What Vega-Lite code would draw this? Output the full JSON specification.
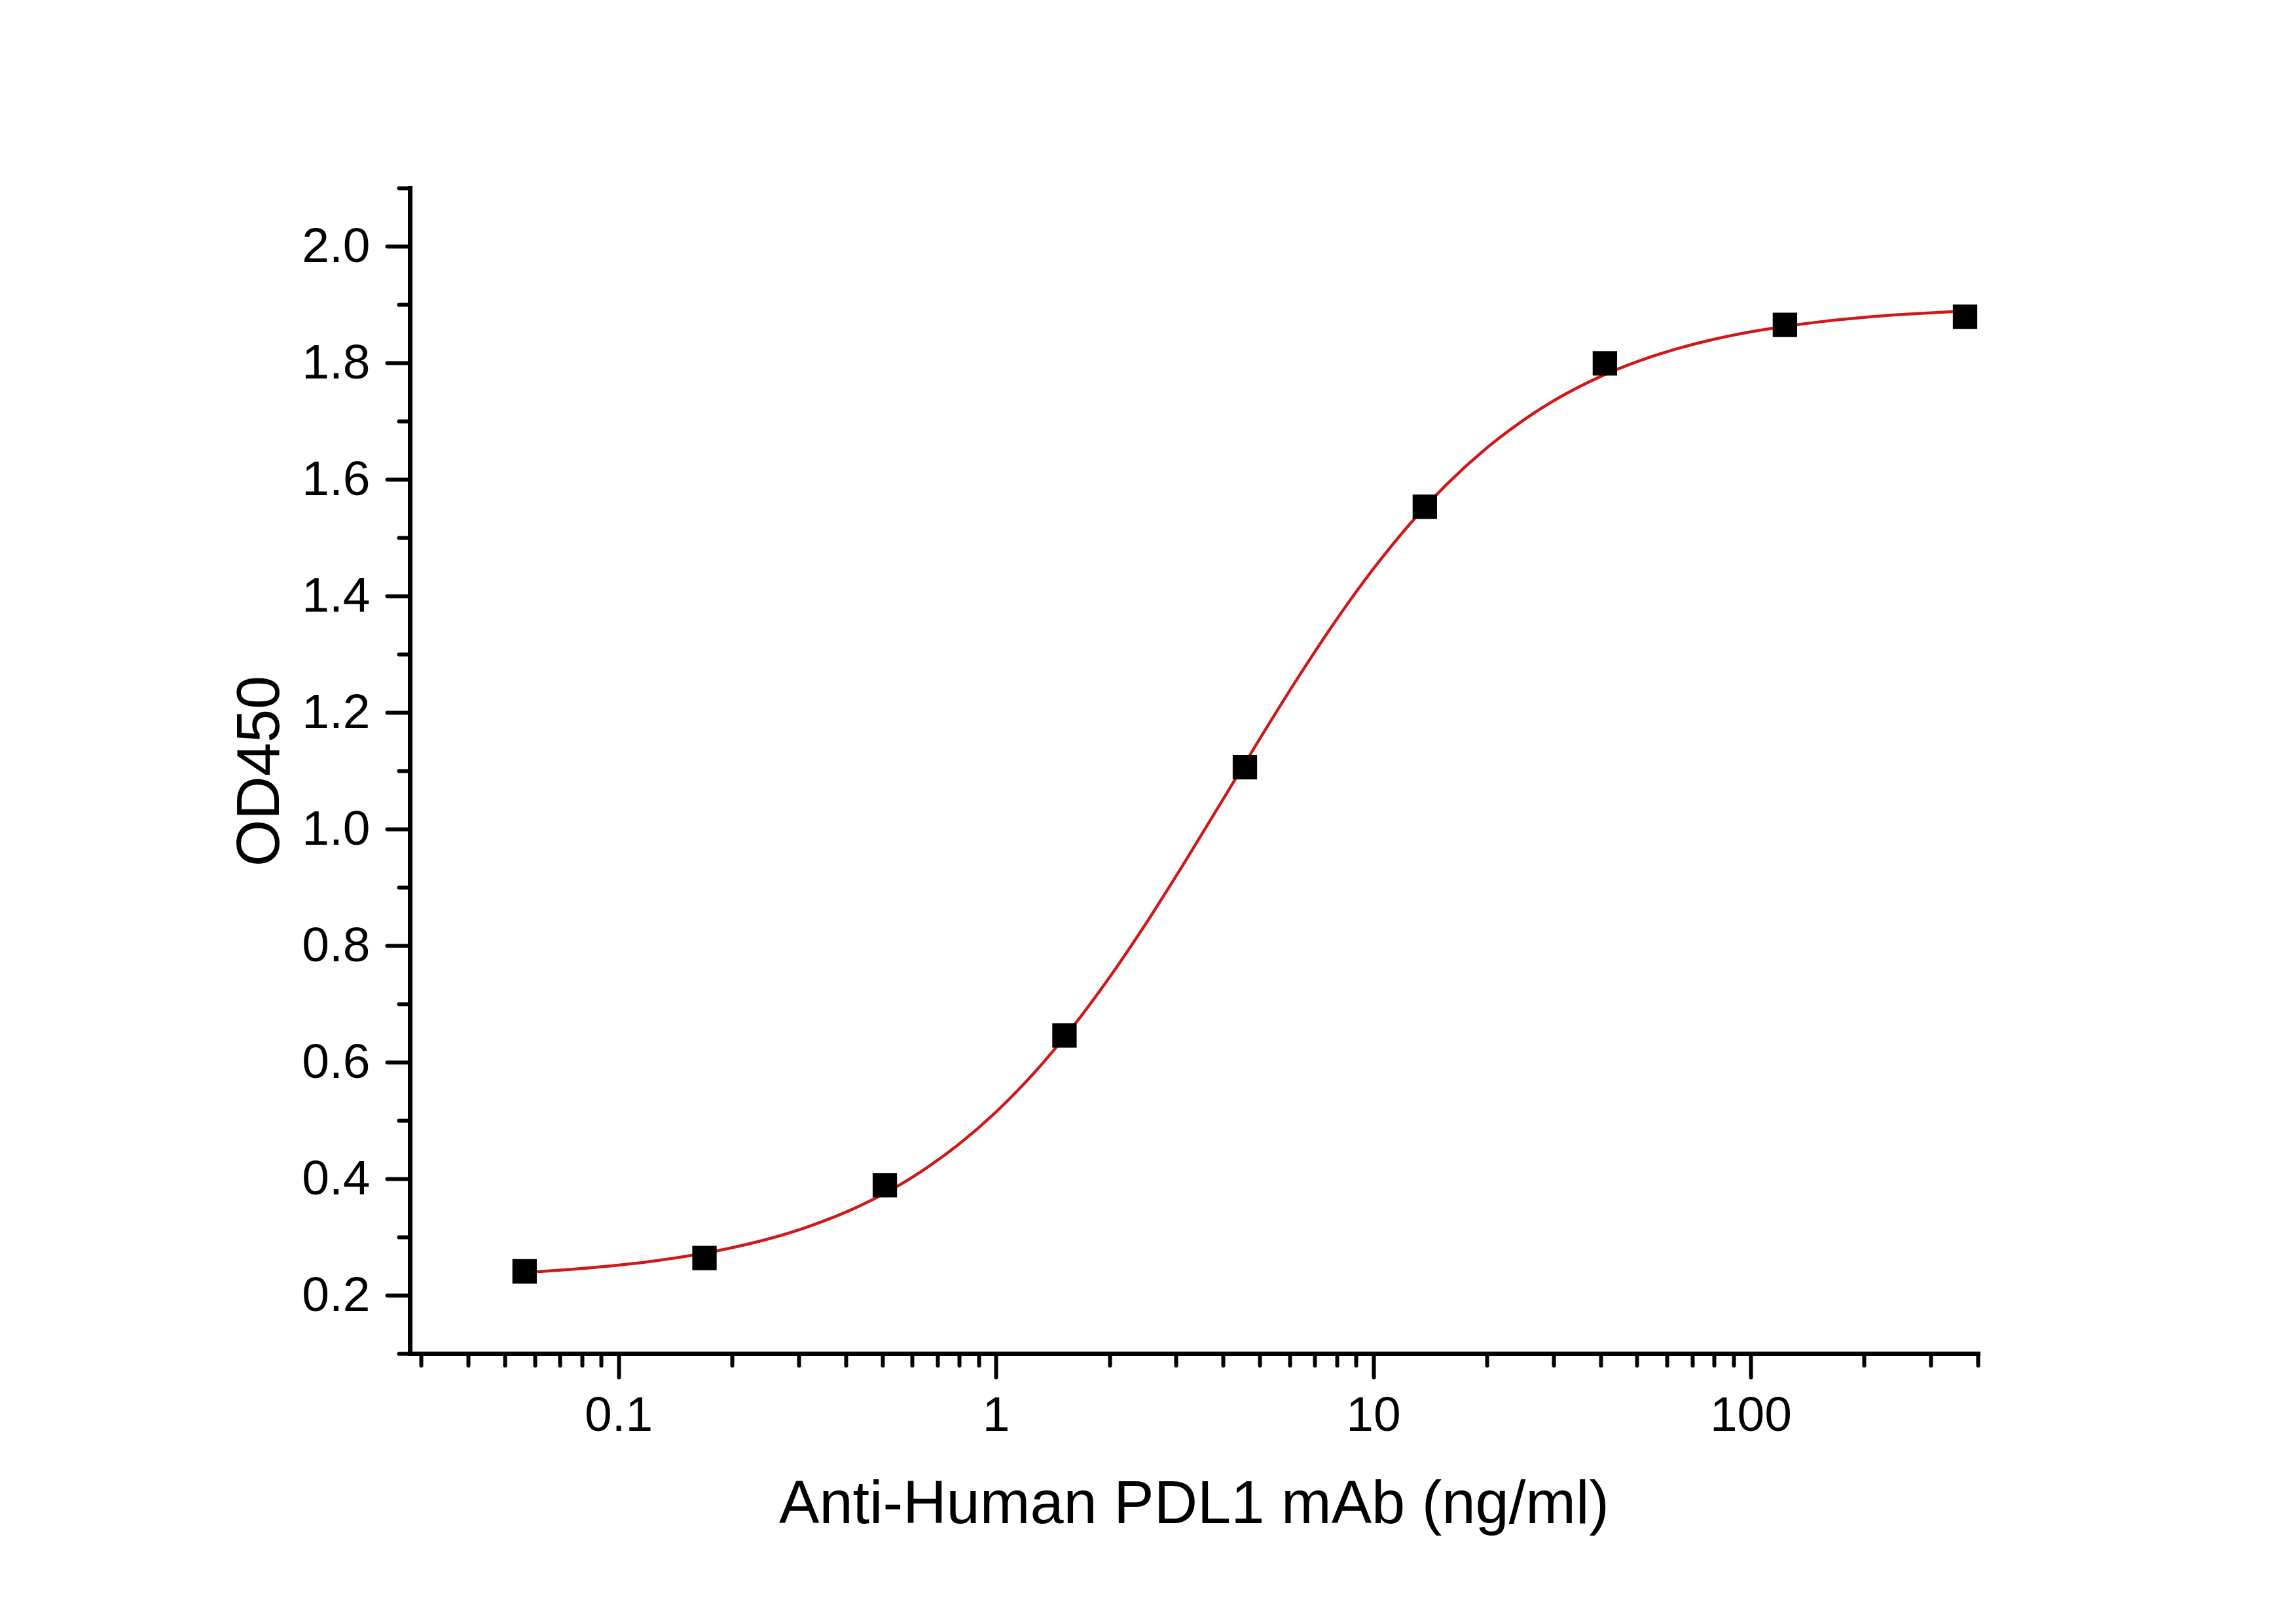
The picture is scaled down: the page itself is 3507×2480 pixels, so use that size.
{
  "$schema": "https://vega.github.io/schema/vega-lite/v6.json",
  "autosize": {"type": "none"},
  "width": 2395,
  "height": 1780,
  "padding": {"left": 626, "top": 287, "right": 486, "bottom": 413},
  "background": "white",
  "config": {
    "view": {"stroke": null},
    "font": "Liberation Sans",
    "axis": {
      "domainColor": "black",
      "tickColor": "black",
      "labelColor": "black",
      "titleColor": "black",
      "labelFont": "Liberation Sans",
      "titleFont": "Liberation Sans",
      "labelFontSize": 75,
      "titleFontSize": 92,
      "titleFontWeight": "normal",
      "domainCap": "square",
      "tickCap": "round",
      "grid": false
    }
  },
  "datasets": {
    "measured": [
      {"conc": 0.0564, "od": 0.241},
      {"conc": 0.169, "od": 0.264},
      {"conc": 0.508, "od": 0.389},
      {"conc": 1.52, "od": 0.646},
      {"conc": 4.57, "od": 1.106},
      {"conc": 13.7, "od": 1.553},
      {"conc": 41.1, "od": 1.799},
      {"conc": 123.3, "od": 1.865},
      {"conc": 370, "od": 1.879}
    ],
    "fit": [
      {"conc": 0.0564, "od": 0.2393},
      {"conc": 0.0631, "od": 0.2411},
      {"conc": 0.0794, "od": 0.2458},
      {"conc": 0.1, "od": 0.2517},
      {"conc": 0.1259, "od": 0.2593},
      {"conc": 0.1585, "od": 0.2691},
      {"conc": 0.1995, "od": 0.2815},
      {"conc": 0.2512, "od": 0.2972},
      {"conc": 0.3162, "od": 0.3171},
      {"conc": 0.3981, "od": 0.342},
      {"conc": 0.5012, "od": 0.3731},
      {"conc": 0.631, "od": 0.4115},
      {"conc": 0.7943, "od": 0.4582},
      {"conc": 1, "od": 0.5143},
      {"conc": 1.259, "od": 0.5807},
      {"conc": 1.585, "od": 0.6575},
      {"conc": 1.995, "od": 0.7444},
      {"conc": 2.512, "od": 0.8402},
      {"conc": 3.162, "od": 0.9426},
      {"conc": 3.981, "od": 1.0488},
      {"conc": 5.012, "od": 1.1555},
      {"conc": 6.31, "od": 1.2591},
      {"conc": 7.943, "od": 1.3568},
      {"conc": 10, "od": 1.4461},
      {"conc": 12.59, "od": 1.5256},
      {"conc": 15.85, "od": 1.5947},
      {"conc": 19.95, "od": 1.6533},
      {"conc": 25.12, "od": 1.7024},
      {"conc": 31.62, "od": 1.7429},
      {"conc": 39.81, "od": 1.7757},
      {"conc": 50.12, "od": 1.802},
      {"conc": 63.1, "od": 1.8231},
      {"conc": 79.43, "od": 1.8399},
      {"conc": 100, "od": 1.8531},
      {"conc": 125.9, "od": 1.8633},
      {"conc": 158.5, "od": 1.8715},
      {"conc": 199.5, "od": 1.8779},
      {"conc": 251.2, "od": 1.8828},
      {"conc": 316.2, "od": 1.8866},
      {"conc": 370, "od": 1.8888}
    ]
  },
  "resolve": {"axis": {"x": "independent", "y": "independent"}},
  "layer": [
    {
      "data": {"name": "fit"},
      "mark": {"type": "line", "color": "#d01818", "strokeWidth": 4.5, "interpolate": "monotone"},
      "encoding": {
        "x": {
          "field": "conc", "type": "quantitative",
          "scale": {"type": "log", "domain": [0.028, 400], "nice": false},
          "axis": {
            "orient": "bottom",
            "title": "Anti-Human PDL1 mAb (ng/ml)",
            "values": [0.1, 1, 10, 100],
            "format": "~g",
            "domainWidth": 7,
            "tickWidth": 6,
            "tickSize": 36,
            "labelPadding": 22,
            "titlePadding": 53,
            "labelFlush": false,
            "labelOverlap": false
          }
        },
        "y": {
          "field": "od", "type": "quantitative",
          "scale": {"domain": [0.1, 2.1], "nice": false, "zero": false},
          "axis": {
            "orient": "left",
            "title": "OD450",
            "values": [0.2, 0.4, 0.6, 0.8, 1.0, 1.2, 1.4, 1.6, 1.8, 2.0],
            "format": ".1f",
            "domainWidth": 7,
            "tickWidth": 6,
            "tickSize": 35,
            "labelPadding": 26,
            "titlePadding": 16,
            "labelFlush": false,
            "labelOverlap": false
          }
        }
      }
    },
    {
      "data": {"name": "measured"},
      "mark": {"type": "point", "shape": "square", "filled": true, "color": "black", "opacity": 1, "size": 1390, "strokeWidth": 0},
      "encoding": {
        "x": {
          "field": "conc", "type": "quantitative",
          "axis": {
            "orient": "bottom",
            "title": null,
            "labels": false,
            "domain": false,
            "values": [0.03, 0.04, 0.05, 0.06, 0.07, 0.08, 0.09, 0.2, 0.3, 0.4, 0.5, 0.6, 0.7, 0.8, 0.9, 2, 3, 4, 5, 6, 7, 8, 9, 20, 30, 40, 50, 60, 70, 80, 90, 200, 300, 400],
            "tickWidth": 6,
            "tickSize": 18
          }
        },
        "y": {
          "field": "od", "type": "quantitative",
          "axis": {
            "orient": "left",
            "title": null,
            "labels": false,
            "domain": false,
            "values": [0.1, 0.3, 0.5, 0.7, 0.9, 1.1, 1.3, 1.5, 1.7, 1.9, 2.1],
            "tickWidth": 6,
            "tickSize": 17
          }
        }
      }
    }
  ]
}
